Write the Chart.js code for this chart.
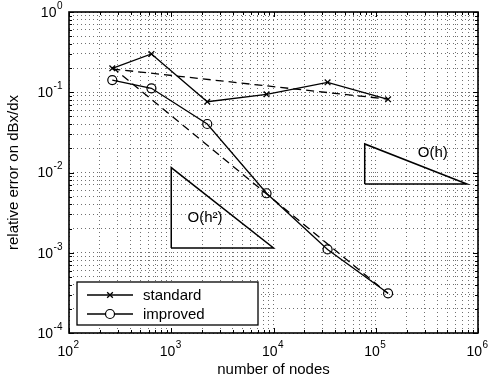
<!DOCTYPE html>
<html><head><meta charset="utf-8">
<script src="https://cdn.jsdelivr.net/npm/chart.js@4.4.1/dist/chart.umd.min.js"></script>
<style>html,body{margin:0;padding:0;background:#fff;}</style>
</head><body>
<canvas id="c" width="489" height="383"></canvas>
<script>
// ---- data ----
const nodes = [265, 640, 2250, 8550, 33800, 132000];
const standardErr = [0.199, 0.30, 0.0762, 0.0942, 0.133, 0.0817];
const improvedErr = [0.142, 0.112, 0.0402, 0.00551, 0.00110, 0.000312];
const refNodes = [265, 132000];
const standardRefErr = [0.195, 0.082];
const improvedRefErr = [0.205, 0.00031];
const triHNodes = [7.8e4, 7.8e5, 7.8e4, 7.8e4];
const triHErr = [0.0072, 0.0072, 0.0227, 0.0072];
const triH2Nodes = [1000, 10000, 1000, 1000];
const triH2Err = [0.00115, 0.00115, 0.0115, 0.00115];
const labelHPos = [361000, 0.0175];
const labelH2Pos = [2140, 0.00271];
const xDecades = [2, 3, 4, 5, 6];
const yDecades = [-4, -3, -2, -1, 0];
const seriesNames = ['standard', 'improved'];
const xTitle = 'number of nodes';
const yTitle = 'relative error on dBx/dx';

const FONT = "'Liberation Sans', Arial, Helvetica, sans-serif";
function pts(xs, ys){ return xs.map((x,i)=>({x:x, y:ys[i]})); }
function buildLogTicks(decs){
  const t = [];
  const lo = Math.min(...decs), hi = Math.max(...decs);
  for (let e = lo; e <= hi; e++) {
    for (let m = 1; m <= 9; m++) {
      if (e === hi && m > 1) break;
      t.push({value: Number(m + 'e' + e), major: m === 1});
    }
  }
  return t;
}
function isPow10(v){ const l = Math.log10(v); return Math.abs(l - Math.round(l)) < 1e-9; }

const black = '#000';
const datasets = [
  {data: pts(refNodes, standardRefErr), borderColor: black, borderWidth: 1.3, borderDash: [8,5], pointRadius: 0, fill:false},
  {data: pts(refNodes, improvedRefErr), borderColor: black, borderWidth: 1.3, borderDash: [8,5], pointRadius: 0, fill:false},
  {data: pts(triHNodes, triHErr), borderColor: black, borderWidth: 1.5, pointRadius: 0, fill:false},
  {data: pts(triH2Nodes, triH2Err), borderColor: black, borderWidth: 1.5, pointRadius: 0, fill:false},
  {label: seriesNames[0], data: pts(nodes, standardErr), borderColor: black, borderWidth: 1.3,
   pointStyle: 'crossRot', pointRadius: 4, pointBorderWidth: 1.3, pointBorderColor: black, pointBackgroundColor: 'rgba(0,0,0,0)', fill:false},
  {label: seriesNames[1], data: pts(nodes, improvedErr), borderColor: black, borderWidth: 1.3,
   pointStyle: 'circle', pointRadius: 4.5, pointBorderWidth: 1.2, pointBorderColor: black, pointBackgroundColor: 'rgba(0,0,0,0)', fill:false}
];

function drawPowLabel(ctx, exp, x, y, align){
  // x,y: anchor; "10" vertically centred on y
  const base = '10', sup = String(exp);
  ctx.font = '14px ' + FONT;
  const wb = ctx.measureText(base).width;
  ctx.font = '10px ' + FONT;
  const ws = ctx.measureText(sup).width;
  const total = wb + ws;
  let x0 = align === 'center' ? x - total / 2 : x - total;
  ctx.textAlign = 'left'; ctx.textBaseline = 'middle';
  ctx.font = '14px ' + FONT;
  ctx.fillText(base, x0, y);
  ctx.font = '10px ' + FONT;
  ctx.fillText(sup, x0 + wb + 0.5, y - 7);
}

const deco = {
  id: 'deco',
  afterDatasetsDraw(chart){
    const ctx = chart.ctx, ca = chart.chartArea;
    const xs = chart.scales.x, ys = chart.scales.y;
    ctx.save();
    // annotation texts
    ctx.fillStyle = black;
    ctx.font = '15px ' + FONT;
    ctx.textAlign = 'center'; ctx.textBaseline = 'middle';
    ctx.fillText('O(h)', xs.getPixelForValue(labelHPos[0]), ys.getPixelForValue(labelHPos[1]));
    ctx.fillText('O(h\u00B2)', xs.getPixelForValue(labelH2Pos[0]), ys.getPixelForValue(labelH2Pos[1]));
    // inward tick marks on all four sides
    ctx.strokeStyle = black; ctx.lineWidth = 1;
    ctx.beginPath();
    xs.ticks.forEach(t => {
      const p = Math.round(xs.getPixelForValue(t.value)) + 0.5;
      const L = isPow10(t.value) ? 5 : 3;
      ctx.moveTo(p, ca.bottom); ctx.lineTo(p, ca.bottom - L);
      ctx.moveTo(p, ca.top); ctx.lineTo(p, ca.top + L);
    });
    ys.ticks.forEach(t => {
      const p = Math.round(ys.getPixelForValue(t.value)) + 0.5;
      const L = isPow10(t.value) ? 5 : 3;
      ctx.moveTo(ca.left, p); ctx.lineTo(ca.left + L, p);
      ctx.moveTo(ca.right, p); ctx.lineTo(ca.right - L, p);
    });
    ctx.stroke();
    // frame
    ctx.lineWidth = 1.6;
    ctx.strokeRect(ca.left, ca.top, ca.right - ca.left, ca.bottom - ca.top);
    // tick labels (10 with raised exponent)
    ctx.fillStyle = black;
    xDecades.forEach(e => drawPowLabel(ctx, e, xs.getPixelForValue(Math.pow(10, e)) - 1, ca.bottom + 19, 'center'));
    yDecades.forEach(e => drawPowLabel(ctx, e, ca.left - 7, ys.getPixelForValue(Math.pow(10, e)) + 1, 'right'));
    // legend
    const bx = ca.left + 8, by = ca.bottom - 51, bw = 181, bh = 43;
    ctx.fillStyle = '#fff';
    ctx.fillRect(bx, by, bw, bh);
    ctx.lineWidth = 1.3; ctx.strokeStyle = black;
    ctx.strokeRect(bx, by, bw, bh);
    [4, 5].forEach((di, k) => {
      const ds = chart.data.datasets[di];
      const y = by + 13 + k * 19;
      ctx.beginPath(); ctx.lineWidth = 1.3; ctx.strokeStyle = black;
      ctx.moveTo(bx + 10, y); ctx.lineTo(bx + 56, y); ctx.stroke();
      ctx.fillStyle = '#fff';
      ctx.lineWidth = ds.pointBorderWidth;
      Chart.helpers.drawPoint(ctx, {pointStyle: ds.pointStyle, radius: ds.pointRadius, borderWidth: ds.pointBorderWidth, rotation: 0}, bx + 33, y);
      ctx.fillStyle = black;
      ctx.font = '15px ' + FONT;
      ctx.textAlign = 'left'; ctx.textBaseline = 'middle';
      ctx.fillText(ds.label, bx + 66, y + 1);
    });
    ctx.restore();
  }
};

new Chart(document.getElementById('c'), {
  type: 'line',
  data: {datasets: datasets},
  plugins: [deco],
  options: {
    responsive: false, animation: false, devicePixelRatio: 1,
    layout: {padding: {left: 0, right: 11, top: 12, bottom: 0}},
    plugins: {legend: {display: false}, tooltip: {enabled: false}},
    elements: {line: {tension: 0}},
    scales: {
      x: {
        type: 'logarithmic', position: 'bottom',
        min: Math.pow(10, xDecades[0]), max: Math.pow(10, xDecades[xDecades.length-1]),
        afterBuildTicks: s => { s.ticks = buildLogTicks(xDecades); },
        afterFit: s => { s.height = 50; s.paddingLeft = 0; s.paddingRight = 0; },
        ticks: {display: false, autoSkip: false, maxRotation: 0},
        grid: {color: '#707070', lineWidth: 1, drawTicks: false},
        border: {display: false, dash: [1, 3]},
        title: {display: true, text: xTitle, color: black, font: {family: FONT, size: 15}, padding: {top: 0, bottom: 4}}
      },
      y: {
        type: 'logarithmic', position: 'left',
        min: Math.pow(10, yDecades[0]), max: Math.pow(10, yDecades[yDecades.length-1]),
        afterBuildTicks: s => { s.ticks = buildLogTicks(yDecades); },
        afterFit: s => { s.width = 69; s.paddingTop = 0; s.paddingBottom = 0; },
        ticks: {display: false, autoSkip: false},
        grid: {color: '#707070', lineWidth: 1, drawTicks: false},
        border: {display: false, dash: [1, 3]},
        title: {display: true, text: yTitle, color: black, font: {family: FONT, size: 15}, padding: {top: 5, bottom: 0}}
      }
    }
  }
});
</script>
</body></html>
